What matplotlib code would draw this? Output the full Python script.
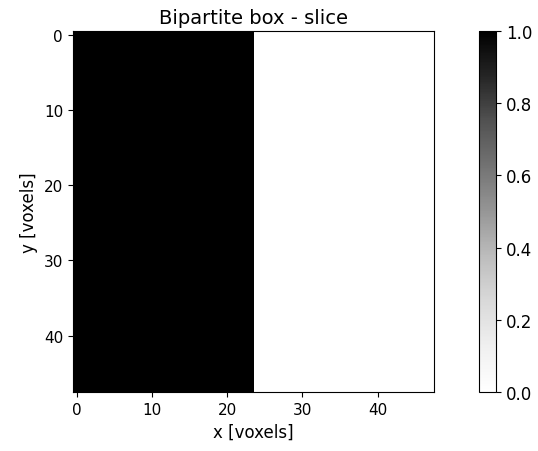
import numpy as np
from matplotlib import pyplot as plt

# 48x48 slice through the bipartite box: left half filled, right half empty
n_vox = 48
n_filled = 24
slice_vals = np.zeros((n_vox, n_vox))
slice_vals[:, :n_filled] = 1.0

cbar_ticks = [0.0, 0.2, 0.4, 0.6, 0.8, 1.0]

fig = plt.figure(figsize=(5.38, 4.52), dpi=100)
ax = fig.add_axes([0.130, 0.1305, 0.682, 0.799])
cax = fig.add_axes([0.890, 0.1305, 0.032, 0.799])

im = ax.imshow(slice_vals, cmap="Greys", vmin=0, vmax=1)
ax.set_title("Bipartite box - slice", fontsize=14)
ax.set_xlabel("x [voxels]", fontsize=12)
ax.set_ylabel("y [voxels]", fontsize=12)
ax.set_xticks([0, 10, 20, 30, 40])
ax.set_yticks([0, 10, 20, 30, 40])
ax.tick_params(labelsize=11)

cb = fig.colorbar(im, cax=cax, ticks=cbar_ticks)
cb.ax.tick_params(labelsize=12)

fig.savefig("out.png", dpi=100)
